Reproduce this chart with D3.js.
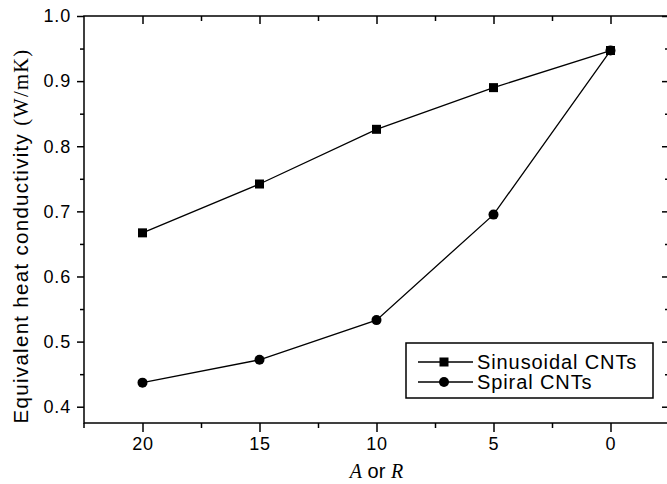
<!DOCTYPE html>
<html>
<head>
<meta charset="utf-8">
<script src="https://cdn.jsdelivr.net/npm/d3@7"></script>
<style>
  body { margin: 0; background: white; }
  svg { display: block; }
</style>
</head>
<body>
<div id="vis"></div>
<script>
var width = 667;
var height = 484;

// data
var aValues = [20, 15, 10, 5, 0];
var sinusoidal = [0.667, 0.742, 0.826, 0.890, 0.947];
var spiral = [0.437, 0.472, 0.533, 0.695, 0.947];
var seriesNames = ["Sinusoidal CNTs", "Spiral CNTs"];
var xTickValues = [20, 15, 10, 5, 0];
var yTickValues = [0.4, 0.5, 0.6, 0.7, 0.8, 0.9, 1.0];

// plot box (window.top is reserved, so use other names)
var plotLeft = 84, plotRight = 669, plotTop = 16, plotBottom = 423;

var svg = d3.select("#vis")
  .append("svg")
  .attr("width", width)
  .attr("height", height)
  .style("background-color", "white");

var xScale = d3.scaleLinear()
  .domain([22.5, -2.5])
  .range([plotLeft, plotRight]);
var yScale = d3.scaleLinear()
  .domain([0.375, 1.0])
  .range([plotBottom, plotTop]);

var xMinor = [17.5, 12.5, 7.5, 2.5];
var yMinor = [0.45, 0.55, 0.65, 0.75, 0.85, 0.95];

var font = "'Liberation Sans', Arial, sans-serif";
var serif = "'Liberation Serif', 'Times New Roman', serif";

function styleAxis(g) {
  g.select(".domain").remove();
  g.selectAll("line").style("stroke", "black").style("stroke-width", 1.5);
  g.selectAll("text")
    .style("font-family", font)
    .style("font-size", "18px")
    .style("letter-spacing", "0.8px")
    .style("fill", "black");
}

// bottom axis, ticks outward
svg.append("g")
  .attr("transform", `translate(0, ${plotBottom})`)
  .call(d3.axisBottom(xScale).tickValues(xTickValues).tickSize(9).tickPadding(5).tickFormat(d3.format("d")))
  .call(styleAxis);
svg.append("g")
  .attr("transform", `translate(0, ${plotBottom})`)
  .call(d3.axisBottom(xScale).tickValues(xMinor).tickSize(5).tickFormat(""))
  .call(styleAxis);

// top axis, ticks inward
svg.append("g")
  .attr("transform", `translate(0, ${plotTop})`)
  .call(d3.axisBottom(xScale).tickValues(xTickValues).tickSize(8).tickFormat(""))
  .call(styleAxis);
svg.append("g")
  .attr("transform", `translate(0, ${plotTop})`)
  .call(d3.axisBottom(xScale).tickValues(xMinor).tickSize(5).tickFormat(""))
  .call(styleAxis);

// left axis, ticks outward
svg.append("g")
  .attr("transform", `translate(${plotLeft}, 0)`)
  .call(d3.axisLeft(yScale).tickValues(yTickValues).tickSize(7).tickPadding(6).tickFormat(d3.format(".1f")))
  .call(styleAxis);
svg.append("g")
  .attr("transform", `translate(${plotLeft}, 0)`)
  .call(d3.axisLeft(yScale).tickValues(yMinor).tickSize(4).tickFormat(""))
  .call(styleAxis);

// right axis, ticks inward
svg.append("g")
  .attr("transform", `translate(${plotRight}, 0)`)
  .call(d3.axisLeft(yScale).tickValues(yTickValues).tickSize(7).tickFormat(""))
  .call(styleAxis);
svg.append("g")
  .attr("transform", `translate(${plotRight}, 0)`)
  .call(d3.axisLeft(yScale).tickValues(yMinor).tickSize(4).tickFormat(""))
  .call(styleAxis);

// frame
svg.append("rect")
  .attr("x", plotLeft)
  .attr("y", plotTop)
  .attr("width", plotRight - plotLeft)
  .attr("height", plotBottom - plotTop)
  .attr("fill", "none")
  .attr("stroke", "black")
  .attr("stroke-width", 1.5);
svg.append("line")
  .attr("x1", plotLeft).attr("x2", plotLeft)
  .attr("y1", plotBottom).attr("y2", plotBottom + 5)
  .attr("stroke", "black")
  .attr("stroke-width", 1.5);

// lines
var line = d3.line()
  .x((d, i) => xScale(aValues[i]))
  .y(d => yScale(d));

svg.append("path")
  .attr("d", line(sinusoidal))
  .attr("fill", "none")
  .attr("stroke", "black")
  .attr("stroke-width", 1.3);
svg.append("path")
  .attr("d", line(spiral))
  .attr("fill", "none")
  .attr("stroke", "black")
  .attr("stroke-width", 1.3);

// markers
svg.selectAll(".sq")
  .data(sinusoidal)
  .join("rect")
  .attr("class", "sq")
  .attr("x", (d, i) => xScale(aValues[i]) - 4.5)
  .attr("y", d => yScale(d) - 4.5)
  .attr("width", 9)
  .attr("height", 9)
  .attr("fill", "black");
svg.selectAll(".dot")
  .data(spiral)
  .join("circle")
  .attr("class", "dot")
  .attr("cx", (d, i) => xScale(aValues[i]))
  .attr("cy", d => yScale(d))
  .attr("r", 5)
  .attr("fill", "black");

// axis titles
var xTitle = svg.append("text")
  .attr("x", xScale(10))
  .attr("y", 478)
  .attr("text-anchor", "middle")
  .style("font-size", "20px")
  .style("fill", "black");
xTitle.append("tspan").text("A").style("font-family", serif).style("font-style", "italic");
xTitle.append("tspan").text(" or ").style("font-family", font);
xTitle.append("tspan").text("R").style("font-family", serif).style("font-style", "italic");

var yTitle = svg.append("text")
  .attr("transform", "translate(28, 236) rotate(-90)")
  .attr("text-anchor", "middle")
  .style("font-size", "20.5px")
  .style("letter-spacing", "1.3px")
  .style("fill", "black");
yTitle.append("tspan").text("Equivalent heat conductivity ").style("font-family", font);
yTitle.append("tspan").text("(W/mK)").style("font-family", serif);

// legend
var legend = svg.append("g").attr("transform", "translate(406, 343)");
legend.append("rect")
  .attr("width", 247)
  .attr("height", 55)
  .attr("fill", "white")
  .attr("stroke", "black")
  .attr("stroke-width", 1.5);

var rows = legend.selectAll(".row")
  .data(seriesNames)
  .join("g")
  .attr("class", "row")
  .attr("transform", (d, i) => `translate(0, ${19 + i * 20})`);
rows.append("line")
  .attr("x1", 12).attr("x2", 67)
  .attr("stroke", "black")
  .attr("stroke-width", 1.3);
rows.filter((d, i) => i == 0).append("rect")
  .attr("x", 33.5).attr("y", -4.5)
  .attr("width", 9).attr("height", 9)
  .attr("fill", "black");
rows.filter((d, i) => i == 1).append("circle")
  .attr("cx", 38).attr("r", 5)
  .attr("fill", "black");
rows.append("text")
  .attr("x", 71)
  .attr("y", 7)
  .text(d => d)
  .style("font-family", font)
  .style("font-size", "20px")
  .style("letter-spacing", "0.9px")
  .style("fill", "black");
</script>
</body>
</html>
